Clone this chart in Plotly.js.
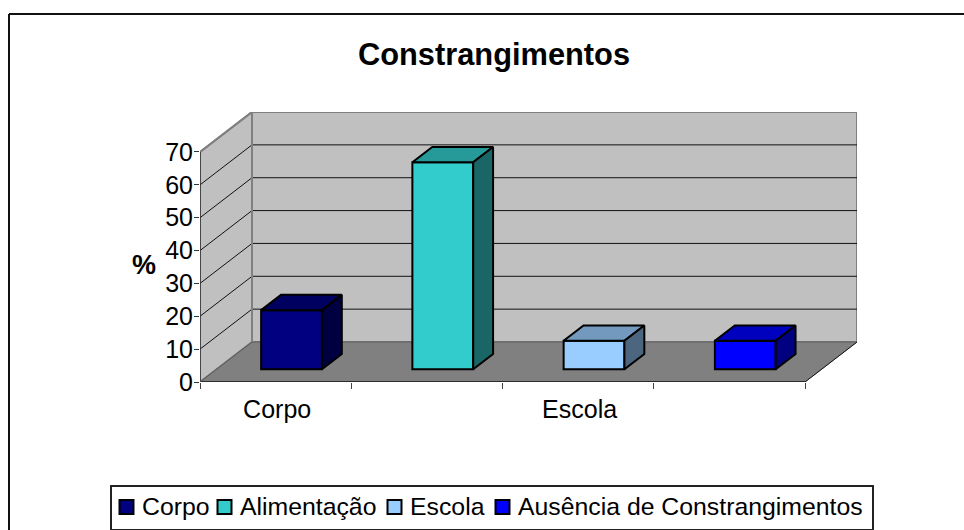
<!DOCTYPE html>
<html><head><meta charset="utf-8">
<script src="https://cdn.plot.ly/plotly-3.0.1.min.js"></script>
<style>html,body{margin:0;padding:0;background:#fff;overflow:hidden}</style></head>
<body><div id="chart" style="width:964px;height:530px"></div>
<script>
const categories = ['Corpo','Alimentação','Escola','Ausência de Constrangimentos'];
const values = [18, 63, 8.7, 8.7];
const frontColors = ['#000080','#33CCCC','#99CCFF','#0000FF'];
const topColors = ['#000060','#269999','#7399BF','#0000BF'];
const sideColors = ['#000040','#1A6666','#4D6680','#000080'];
const yTicks = [0,10,20,30,40,50,60,70];
const axisLabels = ['Corpo','','Escola',''];
const legendTextStarts = [142,240,410,518];

// oblique projection: depth 0 = front edge of the floor, depth 1 = back wall
const DX = 0.3438, DY = 12.17, YMAX = 70, NCAT = 4;
const D1 = 0.3175, D2 = 0.70, BW = 0.402, CENTER = 0.496;
const proj = (c, v, d) => [c + d*DX, v + d*DY];
const poly = pts => 'M' + pts.map(p => p[0]+','+p[1]).join('L') + 'Z';
const M = {l:200, r:107, t:112, b:148};
const W = 964, H = 530, PW = W-M.l-M.r, PH = H-M.t-M.b;
const px = x => (x-M.l)/PW, py = y => (H-M.b-y)/PH;

const shapes = [];
const addPoly = (pts, fill, lineColor, lw) => shapes.push({type:'path', xref:'x', yref:'y', layer:'below',
  path: poly(pts), fillcolor: fill, line:{color: lineColor, width: lw}});
const addLine = (a, b, color, lw) => shapes.push({type:'line', xref:'x', yref:'y', layer:'below',
  x0:a[0], y0:a[1], x1:b[0], y1:b[1], line:{color, width: lw}});

// back wall, side wall, floor
addPoly([proj(0,0,1),proj(NCAT,0,1),proj(NCAT,YMAX,1),proj(0,YMAX,1)], '#C0C0C0', '#808080', 2);
addPoly([proj(0,0,0),proj(0,0,1),proj(0,YMAX,1),proj(0,YMAX,0)], '#C0C0C0', '#808080', 2);
addPoly([proj(0,0,0),proj(NCAT,0,0),proj(NCAT,0,1),proj(0,0,1)], '#808080', '#808080', 1);
// gridlines
yTicks.slice(1,-1).forEach(v => {
  addLine(proj(0,v,0), proj(0,v,1), '#111', 1);
  addLine(proj(0,v,1), proj(NCAT,v,1), '#111', 1);
});
addLine(proj(0,70,1), proj(NCAT,70,1), '#808080', 2);
addLine(proj(0,70,0), proj(0,70,1), '#808080', 2);
addLine(proj(0,0,1), proj(NCAT,0,1), '#6a6a6a', 1.5);
addLine(proj(0,YMAX,1), proj(0,0,1), '#808080', 2);
// axis edges
addLine(proj(NCAT,0,0), proj(NCAT,0,1), '#111', 1);
addLine(proj(0,0,0), proj(NCAT,0,0), '#111', 1.5);
addLine(proj(0,0,0), proj(0,YMAX,0), '#333', 1.5);
addLine(proj(0,0,0), proj(0,0,1), '#555', 1);

// chart frame
shapes.push({type:'line', xref:'paper', yref:'paper', x0:px(9), x1:px(970), y0:py(14), y1:py(14), line:{color:'#111', width:2}});
shapes.push({type:'line', xref:'paper', yref:'paper', x0:px(9), x1:px(9), y0:py(14), y1:py(540), line:{color:'#111', width:2}});

const traces = [];
categories.forEach((name, i) => {
  const c = i + CENTER + D1*DX;
  traces.push({type:'bar', name, x:[c], y:[values[i]], base:[D1*DY], width:[BW],
    marker:{color:frontColors[i], line:{color:'#000', width:2}}, showlegend:true, hoverinfo:'skip'});
});
categories.forEach((name, i) => {
  const c0 = i + CENTER - BW/2 , c1 = i + CENTER + BW/2, v = values[i];
  const face = (pts, color) => traces.push({type:'scatter', mode:'lines', x:pts.map(p=>p[0]), y:pts.map(p=>p[1]),
    fill:'toself', fillcolor:color, line:{color:'#000', width:2}, showlegend:false, hoverinfo:'skip'});
  face([proj(c0,v,D1),proj(c1,v,D1),proj(c1,v,D2),proj(c0,v,D2),proj(c0,v,D1)], topColors[i]);
  face([proj(c1,0,D1),proj(c1,0,D2),proj(c1,v,D2),proj(c1,v,D1),proj(c1,0,D1)], sideColors[i]);
});

const font = 'Liberation Sans, Arial, sans-serif';
const layout = {
  width:W, height:H, margin:M, paper_bgcolor:'#fff', plot_bgcolor:'rgba(0,0,0,0)',
  font:{family:font, size:25, color:'#000'},
  title:{text:'<b>Constrangimentos</b>', font:{family:font, size:30.8, color:'#000'},
    x:494/W, xref:'container', xanchor:'center', y:1-54/H, yref:'container', yanchor:'middle'},
  bargap:0, barmode:'overlay',
  xaxis:{range:[0, NCAT+DX], showgrid:false, zeroline:false, showline:false,
    tickmode:'array', tickvals:[0.51,1.5,2.51,3.5], ticktext:axisLabels, ticks:'', ticklabelstandoff:10,
    minor:{tickmode:'array', tickvals:[0,1,2,3,4], ticks:'outside', ticklen:6, tickcolor:'#444', tickwidth:1},
    fixedrange:true},
  yaxis:{range:[0, YMAX+DY], showgrid:false, zeroline:false, showline:false,
    tickmode:'array', tickvals:yTicks, ticks:'outside', ticklen:5, tickcolor:'#333', tickwidth:1,
    ticklabelstandoff:-4, fixedrange:true},
  shapes,
  annotations:[{text:'<b>%</b>', xref:'paper', yref:'paper', x:px(144), y:py(265), xanchor:'center', yanchor:'middle',
    showarrow:false, font:{family:font, size:27, color:'#000'}}],
  legend:{orientation:'h', xref:'container', yref:'container', x:110/W, y:1-485/H, xanchor:'left', yanchor:'top', bgcolor:'#fff',
    bordercolor:'#222', borderwidth:1.5, font:{family:font, size:24.8, color:'#000'}, traceorder:'normal',
    itemclick:false, itemdoubleclick:false}
};
Plotly.newPlot('chart', traces, layout, {displayModeBar:false, staticPlot:true}).then(gd => {
  // Fit the native legend to the reference's tighter box and larger swatches
  const lg = gd.querySelector('.legend');
  if (!lg) return;
  lg.setAttribute('transform', 'translate(110,485)');
  const scroll = lg.querySelector('.scrollbox');
  if (scroll) scroll.removeAttribute('clip-path');
  lg.querySelectorAll('rect.bg').forEach(r => { r.setAttribute('width', 762); r.setAttribute('height', 44); });
  lg.querySelectorAll('.traces').forEach((t, i) => {
    t.setAttribute('transform', `translate(${legendTextStarts[i]-110-40},22)`);
    const p = t.querySelector('.legendpoints path');
    if (p) { p.setAttribute('d','M7,7H-7V-7H7Z'); p.setAttribute('transform','translate(24.5,0)'); }
    const txt = t.querySelector('text.legendtext');
    if (txt) txt.setAttribute('y', parseFloat(txt.getAttribute('y')||0) - 2);
  });
});
</script></body></html>
